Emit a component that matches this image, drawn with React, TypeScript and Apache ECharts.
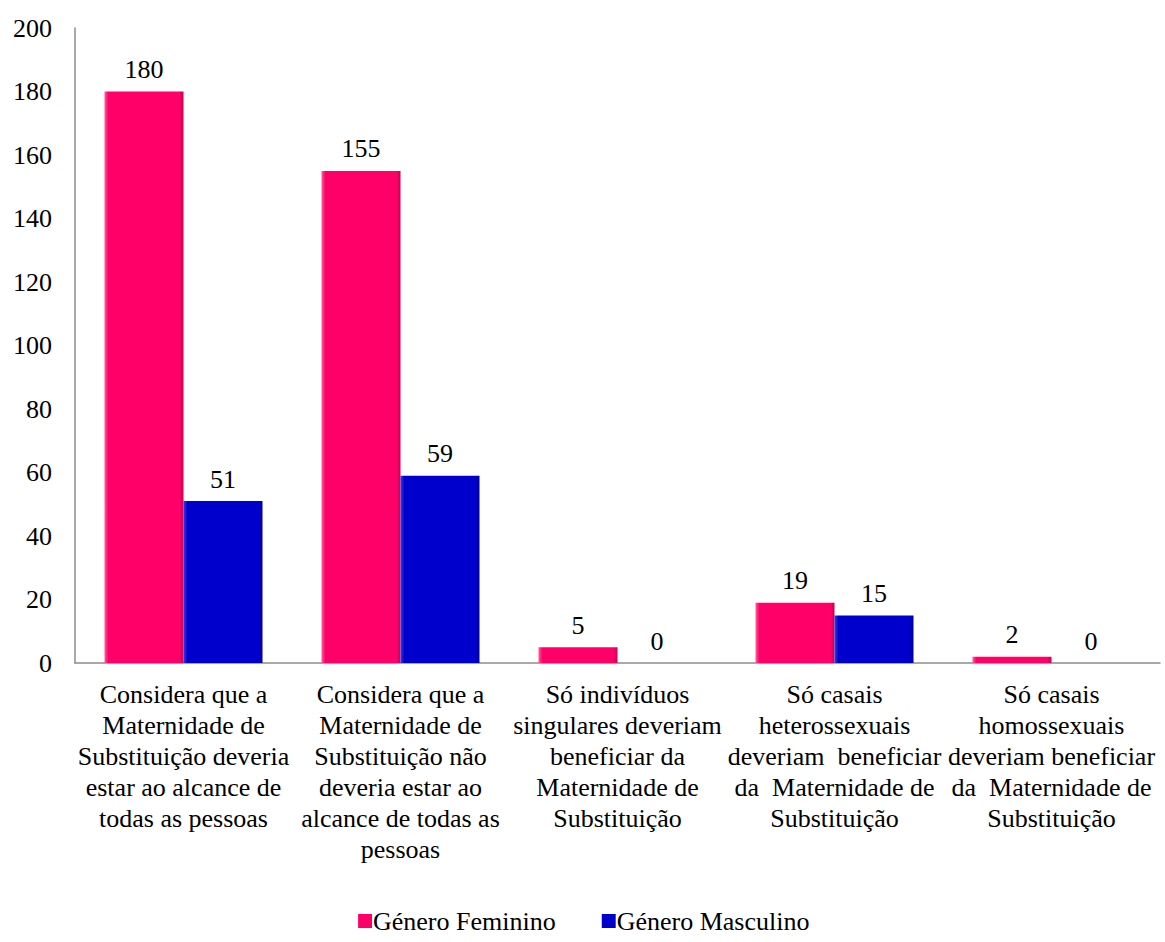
import React, { useEffect, useRef } from "react";
import * as echarts from "echarts";

const categories = [
  "Considera que a\nMaternidade de\nSubstituição deveria\nestar ao alcance de\ntodas as pessoas",
  "Considera que a\nMaternidade de\nSubstituição não\ndeveria estar ao\nalcance de todas as\npessoas",
  "Só indivíduos\nsingulares deveriam\nbeneficiar da\nMaternidade de\nSubstituição",
  "Só casais\nheterossexuais\ndeveriam  beneficiar\nda  Maternidade de\nSubstituição",
  "Só casais\nhomossexuais\ndeveriam beneficiar\nda  Maternidade de\nSubstituição",
];
const feminino = [180, 155, 5, 19, 2];
const masculino = [51, 59, 0, 15, 0];
const seriesNames = ["Género Feminino", "Género Masculino"];

const FONT = "Liberation Serif, Times New Roman, serif";
const FS = 26;

function barColor(base: string, light: string, dark: string) {
  return new echarts.graphic.LinearGradient(0, 0, 1, 0, [
    { offset: 0, color: light },
    { offset: 0.05, color: base },
    { offset: 0.95, color: base },
    { offset: 1, color: dark },
  ]);
}

export default function App() {
  const ref = useRef<HTMLDivElement>(null);
  useEffect(() => {
    if (!ref.current) return;
    const chart = echarts.init(ref.current, undefined, { renderer: "svg" });
    const labelStyle = {
      show: true,
      position: "top" as const,
      distance: 9,
      color: "#000",
      fontFamily: FONT,
      fontSize: FS,
    };
    chart.setOption({
      animation: false,
      textStyle: { fontFamily: FONT },
      grid: { left: 75, right: 5, top: 28, bottom: 279, containLabel: false },
      legend: {
        top: 908,
        left: 358,
        padding: 0,
        itemWidth: 14,
        itemHeight: 14,
        itemGap: 46,
        icon: "rect",
        textStyle: { fontFamily: FONT, fontSize: FS, color: "#000", padding: [0, 0, 0, -4] },
        data: seriesNames,
      },
      xAxis: {
        type: "category",
        data: categories,
        axisLine: { lineStyle: { color: "#8c8c8c", width: 1.5 } },
        axisTick: { show: false },
        axisLabel: {
          interval: 0,
          color: "#000",
          fontFamily: FONT,
          fontSize: FS,
          lineHeight: 31,
          margin: 16,
        },
      },
      yAxis: {
        type: "value",
        min: 0,
        max: 200,
        interval: 20,
        axisLine: { show: true, lineStyle: { color: "#8c8c8c", width: 1.5 } },
        axisTick: { show: false },
        splitLine: { show: false },
        axisLabel: { color: "#000", fontFamily: FONT, fontSize: FS, margin: 23 },
      },
      series: [
        {
          name: seriesNames[0],
          type: "bar",
          data: feminino,
          barWidth: 79,
          barGap: "0%",
          itemStyle: {
            color: barColor("#ff0068", "#ff5c9c", "#c4004f"),
          },
          label: labelStyle,
        },
        {
          name: seriesNames[1],
          type: "bar",
          data: masculino,
          barWidth: 79,
          barGap: "0%",
          itemStyle: {
            color: barColor("#0000cc", "#3a3ae6", "#000099"),
          },
          label: labelStyle,
        },
      ],
    });
    return () => chart.dispose();
  }, []);
  return (
    <div
      ref={ref}
      style={{ position: "absolute", left: 0, top: 0, width: 1165, height: 942 }}
    />
  );
}
